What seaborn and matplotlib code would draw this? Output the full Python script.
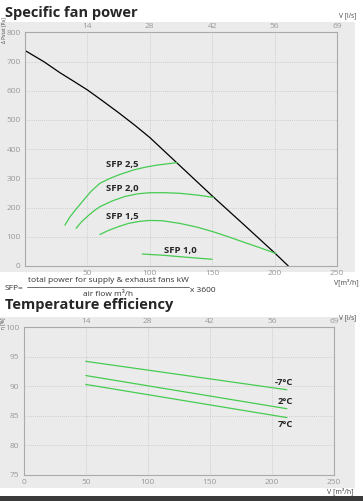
import numpy as np
import pandas as pd
import seaborn as sns
import matplotlib.pyplot as plt
from matplotlib.patches import Rectangle

# fan curve (m3/h, Pa)
fan_flow = [0, 15, 28, 40, 50, 62, 75, 88, 100, 112, 125, 150, 175, 200, 211]
fan_pressure = [738, 700, 662, 630, 603, 566, 525, 482, 440, 392, 340, 240, 143, 45, 0]

# SFP iso-lines
sfp25_flow = [32, 36, 40, 47, 53, 60, 67, 75, 87, 96, 105, 114, 122]
sfp25_p = [140, 168, 190, 226, 256, 283, 298, 312, 329, 338, 345, 350, 354]
sfp20_flow = [41, 45, 50, 55, 60, 70, 80, 90, 100, 112, 124, 138, 151]
sfp20_p = [129, 150, 170, 188, 203, 223, 238, 247, 251, 251, 249, 243, 235]
sfp15_flow = [60, 67, 75, 83, 92, 100, 110, 124, 138, 151, 163, 175, 188, 201]
sfp15_p = [108, 122, 135, 146, 153, 156, 155, 146, 133, 117, 100, 82, 63, 43]
sfp10_flow = [94, 110, 124, 138, 150]
sfp10_p = [41, 37, 32, 27, 23]

# temperature efficiency (m3/h, %)
eff_flow = [50, 212]
eff_m7 = [94.2, 89.4]
eff_2 = [91.8, 86.2]
eff_7 = [90.3, 84.7]

flow_ticks = [0, 50, 100, 150, 200, 250]
ls_ticks = [50, 100, 150, 200, 250]
ls_labels = ['14', '28', '42', '56', '69']

GREEN = '#45cc50'
PANEL = '#ebebeb'
SPINE = '#aaaaaa'
TICK = '#999999'

sns.set_style('white')
plt.rcParams['font.family'] = ['Open Sans', 'DejaVu Sans']

W, H = 363, 501
fig = plt.figure(figsize=(W / 100, H / 100), dpi=100)


def px_rect(x0, y0, x1, y1):
    '''pixel box (top-left origin) -> figure fraction rect'''
    return [x0 / W, (H - y1) / H, (x1 - x0) / W, (y1 - y0) / H]


# gray panels and dark bar at the bottom
for (x0, y0, x1, y1), col in [((0, 22, 355, 272), PANEL), ((0, 317, 355, 488), PANEL),
                              ((0, 496, 363, 501), '#3a3a3a')]:
    r = px_rect(x0, y0, x1, y1)
    fig.patches.append(Rectangle((r[0], r[1]), r[2], r[3], transform=fig.transFigure,
                                 facecolor=col, edgecolor='none', zorder=-10))


def style_axes(ax, ylim, yticks):
    ax.set_facecolor(PANEL)
    ax.set_xlim(0, 250)
    ax.set_ylim(*ylim)
    ax.set_xticks(flow_ticks)
    ax.set_yticks(yticks)
    ax.grid(True, color='#c4c4c4', linestyle=(0, (1, 1.5)), linewidth=0.6)
    for s in ax.spines.values():
        s.set_color(SPINE)
        s.set_linewidth(0.8)
    ax.tick_params(length=0, labelsize=6, colors=TICK, pad=3)
    ax.set_xlabel('')
    ax.set_ylabel('')
    top = ax.twiny()
    top.set_xlim(0, 250)
    top.set_xticks(ls_ticks)
    top.set_xticklabels(ls_labels)
    top.tick_params(length=0, labelsize=6, colors=TICK, pad=1.5)
    for s in top.spines.values():
        s.set_visible(False)


# ---- Specific fan power ----
ax1 = fig.add_axes(px_rect(25, 32.4, 337, 266))
sns.lineplot(x=fan_flow, y=fan_pressure, ax=ax1, color='black', linewidth=0.9,
             sort=False, estimator=None)
for fx, fy in [(sfp25_flow, sfp25_p), (sfp20_flow, sfp20_p),
               (sfp15_flow, sfp15_p), (sfp10_flow, sfp10_p)]:
    sns.lineplot(x=fx, y=fy, ax=ax1, color=GREEN, linewidth=0.9, sort=False, estimator=None)
style_axes(ax1, (0, 800), range(0, 801, 100))
ax1.set_xticks(ls_ticks)
for label, x, y in [('SFP 2,5', 65, 346), ('SFP 2,0', 65, 264),
                    ('SFP 1,5', 65, 169), ('SFP 1,0', 111, 52)]:
    ax1.text(x, y, label, fontsize=6.8, fontweight='bold', va='center', ha='left')

fig.text(5 / W, 1 - 13 / H, 'Specific fan power', fontsize=10.5, fontweight='bold',
         va='center', ha='left')
fig.text(348 / W, 1 - 16 / H, 'V [l/s]', fontsize=4.8, va='center', ha='center', color='#444444')
fig.text(4 / W, 1 - 30 / H, 'Δ Pstat [Pa]', fontsize=3.5, rotation=90, va='center',
         ha='center', color='#444444')
fig.text(346 / W, 1 - 282 / H, 'V[m³/h]', fontsize=5, va='center', ha='center', color='#444444')

# SFP formula
fig.text(5 / W, 1 - 289 / H, 'SFP=', fontsize=6, va='center', ha='left', color='#333333')
fig.text(108 / W, 1 - 281 / H, 'total power for supply & exhaust fans kW', fontsize=6,
         va='center', ha='center', color='#333333')
fig.add_artist(plt.Line2D([27 / W, 189 / W], [1 - 287 / H, 1 - 287 / H], color='#333333',
                          linewidth=0.5))
fig.text(108 / W, 1 - 295 / H, 'air flow m³/h', fontsize=6, va='center', ha='center',
         color='#333333')
fig.text(190 / W, 1 - 290 / H, 'x 3600', fontsize=6, va='center', ha='left', color='#333333')

# ---- Temperature efficiency ----
fig.text(5 / W, 1 - 305 / H, 'Temperature efficiency', fontsize=10.5, fontweight='bold',
         va='center', ha='left')
ax2 = fig.add_axes(px_rect(23.7, 327, 334, 475))
for ey in [eff_m7, eff_2, eff_7]:
    sns.lineplot(x=eff_flow, y=ey, ax=ax2, color=GREEN, linewidth=0.9, sort=False, estimator=None)
style_axes(ax2, (75, 100), range(75, 101, 5))
for label, y in [('-7°C', 90.7), ('2°C', 87.4), ('7°C', 83.6)]:
    ax2.text(217, y, label, fontsize=6.8, fontweight='bold', va='center', ha='right')

fig.text(348 / W, 1 - 318 / H, 'V [l/s]', fontsize=4.8, va='center', ha='center', color='#444444')
fig.text(4 / W, 1 - 323 / H, 'η [%]', fontsize=3.5, rotation=90, va='center', ha='center',
         color='#444444')
fig.text(340 / W, 1 - 491 / H, 'V [m³/h]', fontsize=5, va='center', ha='center', color='#444444')

plt.savefig('out.png', dpi=100)
plt.close()
